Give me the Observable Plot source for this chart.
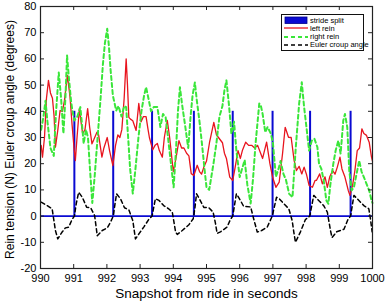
<!DOCTYPE html>
<html><head><meta charset="utf-8">
<script src="https://cdn.jsdelivr.net/npm/d3@7"></script>
<script src="https://cdn.jsdelivr.net/npm/@observablehq/plot@0.6"></script>
<style>
body{margin:0;background:#fff;}
#wrap{position:relative;width:388px;height:305px;font-family:"Liberation Sans",Arial,sans-serif;}
#wrap svg{overflow:visible;}
#legend{position:absolute;left:281px;top:14px;width:81px;height:35px;border:1px solid #111;background:#fff;font-size:7.5px;color:#000;}
#legend .row{position:absolute;left:2px;height:8px;display:flex;align-items:center;}
#legend .row span{margin-left:2px;white-space:nowrap;}
</style></head><body>
<div id="wrap"><div id="chart"></div>
<div id="legend"></div></div>
<script>
// ---- data (seconds, value) ----
const splitT = [991.02, 992.19, 993.36, 994.62, 995.79, 996.99, 998.12, 999.34];
const splitTop = [40, 40, 40, 40, 40, 40, 40, 40];

const leftT = [990.02,990.06,990.12,990.18,990.24,990.30,990.36,990.41,990.45,990.52,990.59,990.66,990.72,990.81,990.89,990.95,991.01,991.05,991.10,991.17,991.22,991.27,991.34,991.42,991.48,991.55,991.60,991.70,991.75,991.85,991.91,992.01,992.08,992.18,992.26,992.33,992.39,992.45,992.52,992.58,992.62,992.66,992.71,992.78,992.88,992.96,993.03,993.10,993.18,993.24,993.28,993.38,993.45,993.52,993.58,993.67,993.73,993.82,993.89,994.00,994.08,994.17,994.25,994.32,994.40,994.47,994.54,994.62,994.72,994.79,994.85,994.92,995.00,995.09,995.22,995.30,995.36,995.48,995.54,995.60,995.70,995.79,995.84,995.95,996.02,996.08,996.18,996.27,996.36,996.45,996.54,996.63,996.69,996.81,996.91,996.99,997.09,997.19,997.29,997.37,997.47,997.55,997.64,997.71,997.79,997.87,997.94,998.01,998.09,998.19,998.27,998.31,998.41,998.49,998.57,998.64,998.71,998.80,998.87,998.94,999.02,999.08,999.17,999.27,999.32,999.40,999.47,999.54,999.61,999.68,999.74,999.82,999.90,999.97,1000];
const leftV = [27,22.5,30,45,51.8,47,45,38,26.3,32.7,40.3,40,44,53.7,45.4,35,26,21.2,30,41,36,31.5,33,41,34,27.6,29,32,31,22.5,26,30,25,19.3,27,31,30,33,45,60,50,37.7,37,36.4,32.7,43,36,38,38,33,30,25.3,27,27.7,25,22.5,30,36.5,30,17,22,28.8,26,26,24,23,16.2,15.5,19.4,17,16,18.7,21,28,35.8,31,30,28,24,22,14.9,13.6,17,25,22,25,28.2,27,27,26,27,24,22,28.2,20,14.9,11,13,23.8,33.9,30.1,30,21.2,17.4,19,16.1,18.7,16,11.7,11,13.6,13.6,16.1,12.3,15,11,14.9,17.4,16,18.7,22.5,18,14.9,9.8,7.9,11.7,17.4,25,26,33.3,31.5,30.8,28.2,22.5,21];

const rightT = [990.02,990.09,990.15,990.21,990.30,990.40,990.47,990.55,990.62,990.69,990.75,990.80,990.86,990.92,990.96,991.02,991.11,991.20,991.25,991.30,991.37,991.43,991.49,991.56,991.63,991.72,991.81,991.88,991.94,992.01,992.06,992.11,992.18,992.28,992.35,992.44,992.52,992.58,992.64,992.70,992.78,992.86,992.95,993.04,993.12,993.18,993.25,993.33,993.41,993.52,993.61,993.69,993.77,993.84,993.93,994.01,994.08,994.14,994.20,994.26,994.34,994.45,994.52,994.58,994.65,994.71,994.79,994.86,994.94,995.00,995.08,995.12,995.21,995.30,995.39,995.48,995.54,995.60,995.68,995.75,995.83,995.90,996.00,996.07,996.15,996.23,996.33,996.40,996.48,996.59,996.64,996.69,996.77,996.84,996.94,997.00,997.09,997.17,997.23,997.32,997.39,997.49,997.59,997.69,997.79,997.87,997.94,998.01,998.09,998.17,998.25,998.34,998.39,998.46,998.53,998.61,998.67,998.73,998.82,998.89,998.97,999.04,999.12,999.17,999.24,999.30,999.37,999.44,999.52,999.60,999.67,999.74,999.82,999.90,999.97,1000];
const rightV = [33,38,44,36,26,23,40,54.8,45,31.5,45,61.3,52,44,40.3,36.5,38,41.6,35,27.7,33,30,18,5,15,30,45,58,66,71.5,65,56,46,40.3,42,38,42,41.6,30,18,8.6,18,30,40,46,49.2,45,40,41.6,41.6,34,39,37.7,30,20,11,25,40,49.2,43,36,26,38,46,51,44,36,28,18,11,10,13,20,28,38,42,48,51.8,42,31.4,36,25,14.9,18,21.4,12,4.8,14,28,43,42,39,32,34,31.4,28,15,18,21,16,14,8.5,7.2,26.3,42.9,51.1,41.6,34,25,28.8,29.5,26.3,20,18,13.6,6,4.7,12,20,25,28.8,23.8,36.5,39,33.9,17.4,9.8,11,16.1,21.2,17,14.9,12.3,9.8,6,5];

const eulerT = [990.02,990.20,990.35,990.45,990.52,990.65,990.75,990.85,990.95,991.02,991.08,991.15,991.26,991.39,991.51,991.63,991.71,991.86,992.01,992.11,992.19,992.29,992.41,992.53,992.66,992.78,992.86,992.98,993.11,993.26,993.36,993.46,993.57,993.71,993.86,993.97,994.07,994.12,994.27,994.47,994.60,994.65,994.70,994.79,994.92,995.07,995.20,995.27,995.32,995.42,995.62,995.72,995.79,995.90,996.02,996.12,996.33,996.42,996.53,996.66,996.83,996.98,997.11,997.20,997.33,997.48,997.58,997.63,997.68,997.83,997.98,998.11,998.23,998.34,998.53,998.64,998.73,998.78,998.92,999.14,999.26,999.34,999.44,999.55,999.74,999.89,999.94,999.99];
const eulerV = [5.3,4,2.8,-5.5,-8.7,-6.1,-4.5,-4.2,-1.3,0,5,9.1,7.2,3.4,3.2,0.2,-7.5,-5.5,-4.5,-2.3,0,8.5,6.6,3.2,2.4,-1.7,-8.7,-6.5,-4.2,-1.3,0,6.6,6,4,2.8,1.5,-6.1,-7,-5.5,-3.3,-1,3,8.5,6.5,3.3,3.2,1.5,-2.8,-6.6,-6,-4.2,-1.3,0,8.5,6,3.7,3.5,-1,-6.1,-5.5,-4.2,0,7.2,6.5,4.7,2.8,-1.7,-6.1,-10,-6,-1.3,0,7.9,6.5,4,1.5,-5.2,-8.2,-6,-5,-1.3,0,7.9,6.5,4,2.8,-1.3,-6];

const xTicks = [990,991,992,993,994,995,996,997,998,999,1000];
const yTicks = [-20,-10,0,10,20,30,40,50,60,70,80];
const xDomain = [990, 1000];
const yDomain = [-20, 80];

const legendItems = ["stride split", "left rein", "right rein", "Euler croup angle"];
const xLabel = "Snapshot from ride in seconds";
const yLabel = "Rein tension (N) Euler croup angle (degrees)";

// ---- styles ----
const BLUE = "#0a0ad2", RED = "#e8141e", GREEN = "#3ae63a", BLACK = "#000";
const W = 388, H = 305, mL = 40, mR = 16, mT = 6, mB = 37;
const frameW = W - mL - mR, frameH = H - mT - mB, TK = 4;

const zip = (t, v) => t.map((d, i) => ({t: d, v: v[i]}));
const left = zip(leftT, leftV), right = zip(rightT, rightV), euler = zip(eulerT, eulerV);
const splits = zip(splitT, splitTop);

const chart = Plot.plot({
  width: W, height: H,
  marginLeft: mL, marginRight: mR, marginTop: mT, marginBottom: mB,
  style: {fontFamily: '"Liberation Sans", Arial, sans-serif', fontSize: "11px", color: "#000", background: "#fff", overflow: "visible"},
  x: {domain: xDomain, ticks: xTicks, tickSize: 0, tickPadding: 6, tickFormat: d => String(d), label: null},
  y: {domain: yDomain, ticks: yTicks, tickSize: 0, tickPadding: 4, tickFormat: d => String(d), label: null},
  marks: [
    Plot.ruleY([0], {x1: xDomain[0], x2: xDomain[1], stroke: BLUE, strokeWidth: 1.6}),
    Plot.ruleX(splits, {x: "t", y1: 0, y2: "v", stroke: BLUE, strokeWidth: 2}),
    Plot.line(left, {x: "t", y: "v", stroke: RED, strokeWidth: 1.3}),
    Plot.line(right, {x: "t", y: "v", stroke: GREEN, strokeWidth: 2, strokeDasharray: "4,3"}),
    Plot.line(euler, {x: "t", y: "v", stroke: BLACK, strokeWidth: 1.5, strokeDasharray: "4,3"}),
    // inward ticks on all four sides
    Plot.tickX(xTicks, {x: d => d, insetTop: frameH - TK, stroke: "#222"}),
    Plot.tickX(xTicks, {x: d => d, insetBottom: frameH - TK, stroke: "#222"}),
    Plot.tickY(yTicks, {y: d => d, insetRight: frameW - TK, stroke: "#222"}),
    Plot.tickY(yTicks, {y: d => d, insetLeft: frameW - TK, stroke: "#222"}),
    Plot.frame({stroke: "#222", strokeWidth: 1.2}),
    Plot.text([xLabel], {text: d => d, frameAnchor: "bottom", dy: 29, fontSize: 13.5, fill: "#000"}),
    Plot.text([yLabel], {text: d => d, frameAnchor: "left", textAnchor: "middle", dx: -30, dy: 2, rotate: -90, fontSize: 12, fill: "#000"})
  ]
});
document.getElementById("chart").appendChild(chart);

// legend
const lg = document.getElementById("legend");
const sw = [
  `<svg width="24" height="8"><rect x="1" y="1" width="22" height="6.5" fill="${BLUE}" stroke="#00008a" stroke-width="0.8"/></svg>`,
  `<svg width="24" height="8"><line x1="0" y1="4" x2="24" y2="4" stroke="${RED}" stroke-width="1.3"/></svg>`,
  `<svg width="24" height="8"><line x1="0" y1="4" x2="24" y2="4" stroke="${GREEN}" stroke-width="2" stroke-dasharray="4,3"/></svg>`,
  `<svg width="24" height="8"><line x1="0" y1="4" x2="24" y2="4" stroke="${BLACK}" stroke-width="1.4" stroke-dasharray="4,3"/></svg>`
];
legendItems.forEach((name, i) => {
  const r = document.createElement("div");
  r.className = "row";
  r.style.top = (1 + i * 8.3) + "px";
  r.innerHTML = sw[i] + `<span>${name}</span>`;
  lg.appendChild(r);
});
</script>
</body></html>
